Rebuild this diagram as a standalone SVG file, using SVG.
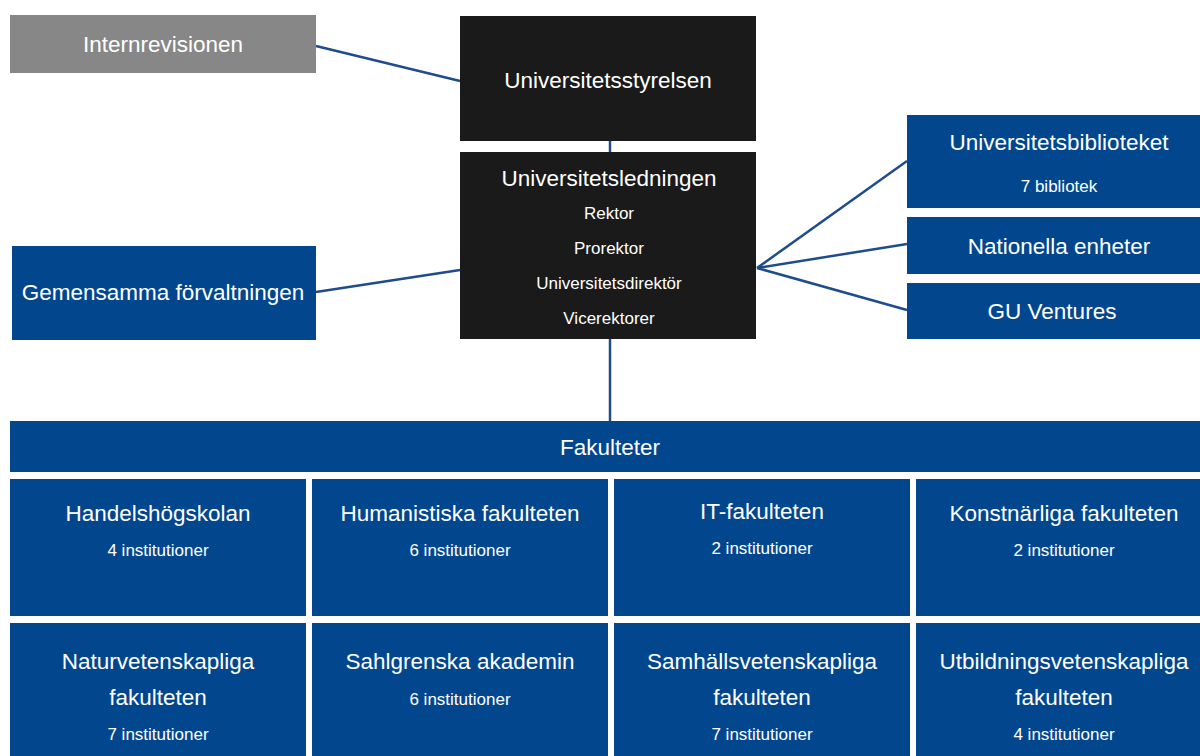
<svg xmlns="http://www.w3.org/2000/svg" width="1200" height="756" viewBox="0 0 1200 756">
<style>
.blue{fill:#02478e}
.black{fill:#1a1a1a}
.grey{fill:#878787}
.t{font-family:"Liberation Sans",Arial,sans-serif;font-size:22.5px;fill:#ffffff;text-anchor:middle}
.s{font-family:"Liberation Sans",Arial,sans-serif;font-size:17px;fill:#ffffff;text-anchor:middle}
.c{stroke:#1e4c8c;stroke-width:2.5;fill:none}
</style>
<rect width="1200" height="756" fill="#ffffff"/>
<g id="connectors">
<line class="c" x1="316" y1="46" x2="460" y2="81"/>
<line class="c" x1="610" y1="141" x2="610" y2="152"/>
<line class="c" x1="316" y1="292" x2="460" y2="270"/>
<line class="c" x1="757" y1="268" x2="907" y2="161"/>
<line class="c" x1="757" y1="268" x2="907" y2="244"/>
<line class="c" x1="757" y1="268" x2="907" y2="310"/>
<line class="c" x1="610" y1="339" x2="610" y2="421"/>
</g>
<g id="internrevisionen">
<rect class="grey" x="10" y="15" width="306" height="58"/>
<text class="t" x="163" y="52">Internrevisionen</text>
</g>
<g id="universitetsstyrelsen">
<rect class="black" x="460" y="16" width="296" height="125"/>
<text class="t" x="608" y="88">Universitetsstyrelsen</text>
</g>
<g id="universitetsledningen">
<rect class="black" x="460" y="152" width="296" height="187"/>
<text class="t" x="609" y="186">Universitetsledningen</text>
<text class="s" x="609" y="219">Rektor</text>
<text class="s" x="609" y="254">Prorektor</text>
<text class="s" x="609" y="289">Universitetsdirektör</text>
<text class="s" x="609" y="324">Vicerektorer</text>
</g>
<g id="gemensamma">
<rect class="blue" x="12" y="246" width="304" height="94"/>
<text class="t" x="163" y="300">Gemensamma förvaltningen</text>
</g>
<g id="ub">
<rect class="blue" x="907" y="115" width="305" height="93"/>
<text class="t" x="1059" y="150">Universitetsbiblioteket</text>
<text class="s" x="1059" y="192">7 bibliotek</text>
</g>
<g id="nationella">
<rect class="blue" x="907" y="217" width="305" height="57"/>
<text class="t" x="1059" y="254">Nationella enheter</text>
</g>
<g id="guventures">
<rect class="blue" x="907" y="283" width="305" height="56"/>
<text class="t" x="1052" y="319">GU Ventures</text>
</g>
<g id="fakulteter">
<rect class="blue" x="10" y="421" width="1202" height="51"/>
<text class="t" x="610" y="455">Fakulteter</text>
</g>
<g id="handels">
<rect class="blue" x="10" y="479" width="296" height="137"/>
<text class="t" x="158" y="521">Handelshögskolan</text>
<text class="s" x="158" y="556">4 institutioner</text>
</g>
<g id="humanistiska">
<rect class="blue" x="312" y="479" width="296" height="137"/>
<text class="t" x="460" y="521">Humanistiska fakulteten</text>
<text class="s" x="460" y="556">6 institutioner</text>
</g>
<g id="it">
<rect class="blue" x="614" y="479" width="296" height="137"/>
<text class="t" x="762" y="519">IT-fakulteten</text>
<text class="s" x="762" y="554">2 institutioner</text>
</g>
<g id="konstnarliga">
<rect class="blue" x="916" y="479" width="296" height="137"/>
<text class="t" x="1064" y="521">Konstnärliga fakulteten</text>
<text class="s" x="1064" y="556">2 institutioner</text>
</g>
<g id="naturvetenskapliga">
<rect class="blue" x="10" y="623" width="296" height="140"/>
<text class="t" x="158" y="669">Naturvetenskapliga</text>
<text class="t" x="158" y="705">fakulteten</text>
<text class="s" x="158" y="740">7 institutioner</text>
</g>
<g id="sahlgrenska">
<rect class="blue" x="312" y="623" width="296" height="140"/>
<text class="t" x="460" y="669">Sahlgrenska akademin</text>
<text class="s" x="460" y="705">6 institutioner</text>
</g>
<g id="samhallsvetenskapliga">
<rect class="blue" x="614" y="623" width="296" height="140"/>
<text class="t" x="762" y="669">Samhällsvetenskapliga</text>
<text class="t" x="762" y="705">fakulteten</text>
<text class="s" x="762" y="740">7 institutioner</text>
</g>
<g id="utbildningsvetenskapliga">
<rect class="blue" x="916" y="623" width="296" height="140"/>
<text class="t" x="1064" y="669">Utbildningsvetenskapliga</text>
<text class="t" x="1064" y="705">fakulteten</text>
<text class="s" x="1064" y="740">4 institutioner</text>
</g>
</svg>
